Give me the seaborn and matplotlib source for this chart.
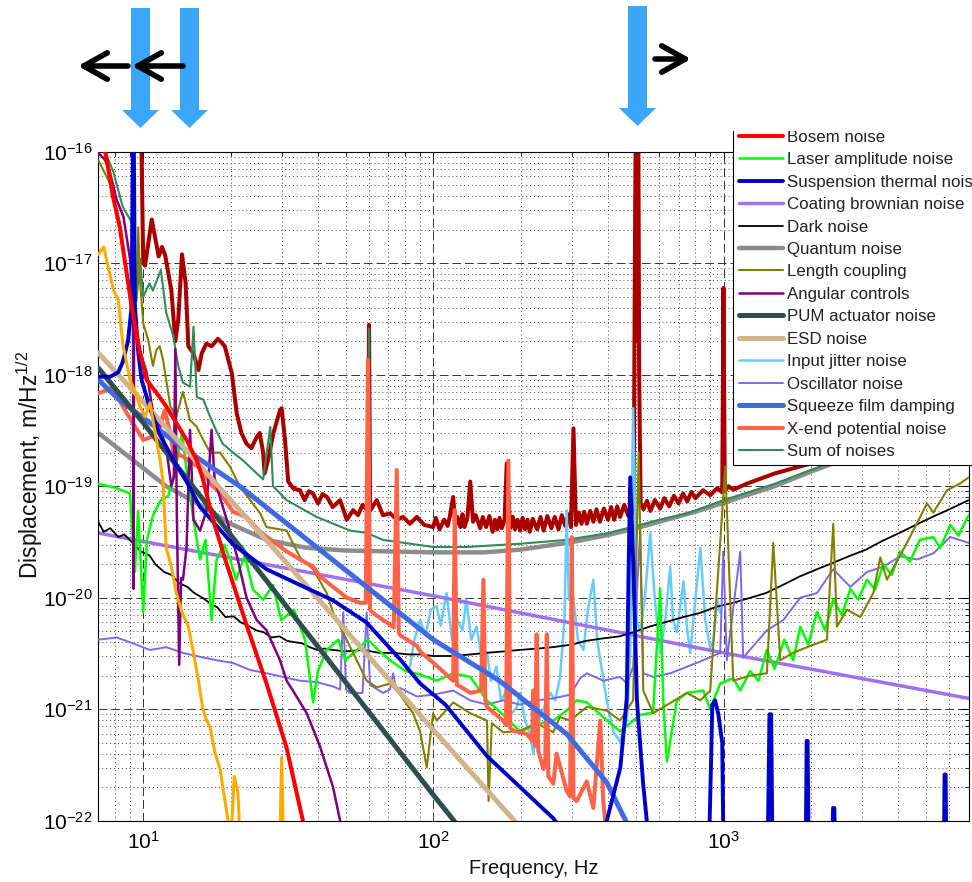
import numpy as np
import pandas as pd
import matplotlib
matplotlib.use("Agg")
import matplotlib.pyplot as plt
import seaborn as sns
from matplotlib.lines import Line2D
from matplotlib.patches import Polygon, FancyArrowPatch, Rectangle
from matplotlib.ticker import LogLocator, NullFormatter

# ---------------- data (frequency Hz, displacement m/Hz^1/2) ----------------
measured = [(7, 3e-16), (9.6, 3e-16), (9.8, 3e-16), (10.0, 1e-17), (10.14, 9.5e-18), (10.7, 2.46e-17),
            (11.3, 1.15e-17), (11.6, 1.4e-17), (11.9, 1.18e-17), (12.5, 5.7e-18), (12.9, 2.0e-18),
            (13.2, 3.1e-18), (13.6, 1.2e-17), (14.0, 6.6e-18), (14.3, 1.8e-18), (14.9, 1.55e-18),
            (15.5, 1.1e-18), (15.9, 1.55e-18), (16.5, 1.9e-18), (17.2, 1.8e-18), (18.1, 2.1e-18),
            (19.1, 1.8e-18), (20.2, 1.03e-18), (21.0, 4.5e-19), (21.8, 3.0e-19), (22.7, 2.4e-19),
            (23.6, 2.2e-19), (24.5, 2.7e-19), (25.2, 3.0e-19), (25.9, 2.0e-19), (26.2, 1.3e-19),
            (26.9, 1.7e-19), (28.1, 3.0e-19), (29.6, 4.8e-19), (30.0, 5.0e-19), (30.8, 2.6e-19),
            (31.6, 1.1e-19), (33.0, 9.5e-20), (34.7, 9.2e-20), (36.0, 7.5e-20), (37.2, 9.0e-20),
            (38.5, 8.6e-20), (40.0, 7.0e-20), (41.5, 8.5e-20), (43.0, 8.0e-20), (45.0, 6.5e-20),
            (47.7, 7.5e-20), (50.3, 5.0e-20), (52.9, 6.1e-20), (55.0, 5.5e-20), (57.0, 6.8e-20),
            (59.5, 6.0e-20), (60.0, 2.8e-18), (60.5, 6.0e-20), (63.8, 7.5e-20), (67.0, 5.5e-20),
            (70.9, 5.7e-20), (75.0, 5.0e-20), (78.6, 5.3e-20), (83.0, 4.6e-20), (87.7, 5.3e-20),
            (93.0, 4.5e-20), (99.8, 4.3e-20), (102, 5.2e-20), (105, 4.1e-20), (109, 5.0e-20),
            (112, 4.4e-20), (114, 5.4e-20), (117, 8e-20), (119, 4.5e-20), (121, 5.3e-20),
            (124, 4.3e-20), (126, 5.6e-20), (128, 4.3e-20), (131, 5.2e-20), (134, 1.1e-19),
            (137, 4.8e-20), (140, 5.5e-20), (145, 4.2e-20), (148, 5.3e-20), (152, 4.3e-20),
            (156, 5.4e-20), (160, 3.9e-20), (163, 5.0e-20), (166, 4.1e-20), (169, 5.2e-20),
            (172, 4.2e-20), (176, 5.0e-20), (179, 1.6e-19), (184, 4.2e-20), (188, 5.3e-20),
            (191, 4.1e-20), (195, 5.0e-20), (199, 4.0e-20), (203, 5.2e-20), (207, 4.1e-20),
            (211, 5.0e-20), (215, 3.9e-20), (220, 5.1e-20), (228, 4.1e-20), (234, 5.3e-20),
            (240, 4.0e-20), (247, 5.4e-20), (255, 4.2e-20), (262, 5.3e-20), (270, 4.1e-20),
            (277, 5.5e-20), (285, 4.4e-20), (292, 5.6e-20), (298, 4.3e-20), (304, 3.3e-19),
            (310, 4.5e-20), (317, 5.8e-20), (324, 4.6e-20), (331, 5.9e-20), (338, 4.6e-20),
            (347, 6.0e-20), (356, 4.8e-20), (365, 6.2e-20), (375, 4.8e-20), (387, 6.3e-20),
            (400, 5.0e-20), (410, 6.5e-20), (420, 5.0e-20), (430, 6.6e-20), (440, 5.3e-20),
            (455, 6.8e-20), (470, 5.4e-20), (480, 6.9e-20), (490, 5.8e-20), (496, 3e-17),
            (500, 5e-16), (504, 2e-18), (508, 5e-16), (512, 1e-18), (518, 7e-20), (530, 6.2e-20),
            (545, 7.4e-20), (560, 6.0e-20), (580, 7.5e-20), (605, 6.3e-20), (625, 7.8e-20),
            (650, 6.6e-20), (675, 8.2e-20), (700, 7.0e-20), (725, 8.6e-20), (750, 7.3e-20),
            (775, 8.9e-20), (800, 7.8e-20), (850, 9.2e-20), (900, 8.3e-20), (950, 9.6e-20),
            (990, 8.8e-20), (1000, 6e-18), (1010, 9.0e-20), (1040, 1.0e-19), (1080, 9.3e-20),
            (1200, 1.05e-19), (1500, 1.3e-19), (2000, 1.6e-19), (2500, 1.9e-19),
            (3500, 2.7e-19), (5000, 3.7e-19), (7000, 5.0e-19)]

quantum = [(7, 3.0e-19), (9, 1.8e-19), (12, 1.0e-19), (15.7, 6.8e-20), (20, 4.6e-20), (26.6, 3.3e-20),
           (36.6, 2.8e-20), (50, 2.65e-20), (100, 2.55e-20), (150, 2.55e-20), (200, 2.7e-20),
           (300, 3.15e-20), (400, 3.65e-20), (500, 4.2e-20), (600, 4.8e-20), (800, 5.9e-20),
           (1000, 7.1e-20), (1500, 1.0e-19), (2000, 1.35e-19), (3000, 2.0e-19), (5000, 3.3e-19),
           (7000, 4.6e-19)]

noise_sum = [(7.0, 1.5e-16), (7.4, 1.0e-16), (7.9, 6.5e-17), (8.5, 3.2e-17), (9.15, 2.3e-17), (9.5, 5e-18),
             (9.75, 1.1e-17), (10.0, 5e-18), (10.5, 6.6e-18), (10.8, 5.7e-18), (11.5, 8.7e-18),
             (12.0, 3.6e-18), (12.7, 2.2e-18), (13.2, 1.2e-18), (13.7, 8.5e-19), (14.5, 7.8e-19),
             (14.9, 2.7e-18), (15.3, 6.3e-19), (16.1, 6.0e-19), (17.0, 4.2e-19), (17.9, 3.1e-19),
             (18.8, 2.4e-19), (20.4, 2.0e-19), (22.1, 1.7e-19), (23.9, 1.4e-19), (25.9, 1.15e-19),
             (27.4, 3.4e-19), (28.0, 1.0e-19), (31.2, 7.5e-20), (39.6, 5.3e-20), (51.6, 4.0e-20),
             (59.5, 3.8e-20), (60.0, 2.6e-18), (60.5, 3.7e-20), (67, 3.3e-20), (99.8, 2.85e-20),
             (130, 2.85e-20), (200, 3.05e-20), (288, 3.3e-20), (400, 3.8e-20), (500, 4.4e-20),
             (600, 5.0e-20), (750, 5.7e-20), (1000, 7.5e-20), (1500, 1.05e-19), (2000, 1.4e-19),
             (3000, 2.05e-19), (5000, 3.4e-19), (7000, 4.7e-19)]

bosem = [(7.0, 1.5e-16), (7.4, 1.0e-16), (7.86, 4.0e-17), (8.3, 2.1e-17), (8.77, 8.1e-18), (9.2, 3.6e-18),
         (9.74, 1.6e-18), (10.27, 9.0e-19), (11.1, 6.9e-19), (12.0, 5.2e-19), (13.0, 3.7e-19),
         (14.1, 2.6e-19), (15.3, 1.7e-19), (16.0, 1.2e-19), (17.4, 5e-20), (19.4, 2e-20),
         (22.7, 5.7e-21), (26.6, 1.7e-21), (31.2, 4.5e-22), (35.5, 1.0e-22), (38, 5e-23)]

orange_trace = [(7.0, 1.2e-17), (7.3, 1.4e-17), (7.9, 5.7e-18), (8.2, 4.7e-18), (8.5, 1.9e-18), (9.0, 9e-19),
                (9.5, 6.4e-19), (9.74, 5.2e-19), (10.14, 4.2e-19), (10.55, 5.6e-19), (11.1, 2.6e-19),
                (11.4, 1.8e-19), (11.7, 1.1e-19), (12.0, 2.8e-20), (12.5, 1.9e-20), (13.0, 1.1e-20),
                (13.6, 7.4e-21), (14.3, 5.5e-21), (14.9, 3.2e-21), (15.5, 1.8e-21), (16.0, 1.05e-21),
                (16.5, 8e-22), (17.0, 6.9e-22), (17.7, 4e-22), (18.4, 2.9e-22), (19.1, 1.55e-22),
                (19.6, 1e-22), (20.0, 6e-23), (20.6, 2.5e-22), (21.2, 1.8e-22), (21.6, 6e-23),
                (29.5, 5e-23), (30.0, 3.7e-22), (30.5, 5e-23)]

susp_thermal = [(7.0, 9.6e-19), (7.7, 9.6e-19), (8.2, 1.05e-18), (8.5, 1.3e-18), (8.86, 2.0e-18),
                (9.12, 4.1e-18), (9.25, 5e-16), (9.36, 4.1e-18), (9.61, 1.6e-18), (9.87, 9e-19),
                (10.55, 5e-19), (11.4, 2.9e-19), (12.9, 1.6e-19), (14.1, 1.1e-19), (15.7, 6.5e-20),
                (20.4, 3.0e-20), (26.6, 1.8e-20), (34.7, 1.3e-20), (45, 9.5e-21), (58.8, 6e-21),
                (76.8, 2.8e-21), (90, 1.7e-21), (110, 1.1e-21), (153, 3.8e-22), (199, 2e-22),
                (259, 1.05e-22), (290, 7e-23), (380, 5e-23), (396, 1e-22), (441, 3e-22),
                (464, 1.25e-21), (471, 1.9e-20), (477, 1.2e-19), (489, 1.9e-20), (503, 1.2e-21),
                (528, 2.2e-22), (544, 1e-22), (600, 5e-23), (890, 5e-23), (905, 3e-22),
                (915, 1.1e-21), (935, 1.2e-21), (960, 9e-22), (990, 5e-22), (1000, 5e-23),
                (1420, 5e-23), (1440, 9e-22), (1460, 9e-22), (1475, 5e-23), (1920, 5e-23),
                (1935, 5.2e-22), (1950, 5.2e-22), (1965, 5e-23), (2370, 5e-23), (2385, 1.3e-22),
                (2410, 1.3e-22), (2425, 5e-23), (5750, 5e-23), (5780, 2.6e-22), (5830, 2.6e-22),
                (5860, 5e-23), (7000, 5e-23)]

coating = [(7, 3.8e-20), (100, 1.04e-20), (1000, 3.2e-21), (7000, 1.25e-21)]

dark = [(7.0, 4.8e-20), (7.3, 3.9e-20), (7.7, 4.2e-20), (8.2, 3.5e-20), (8.6, 3.7e-20), (9.2, 3.1e-20),
        (9.8, 2.6e-20), (10.5, 2.4e-20), (11.0, 2.0e-20), (11.8, 1.7e-20), (12.5, 1.6e-20),
        (13.3, 1.35e-20), (14.2, 1.25e-20), (15.0, 1.1e-20), (16.0, 1.0e-20), (17.0, 8.9e-21),
        (18.0, 8.2e-21), (19.2, 6.7e-21), (20.5, 6.8e-21), (21.7, 6.0e-21), (23.0, 5.6e-21),
        (24.5, 5.1e-21), (26.0, 4.9e-21), (27.7, 4.4e-21), (29.5, 4.5e-21), (31.3, 4.1e-21),
        (33.0, 4.0e-21), (35.3, 3.9e-21), (37.5, 3.6e-21), (39.8, 3.4e-21), (42, 3.5e-21),
        (45, 3.4e-21), (50, 3.3e-21), (57.5, 3.4e-21), (65, 3.2e-21), (73, 3.2e-21), (82, 3.1e-21),
        (90, 3.1e-21), (100, 3.0e-21), (117, 3.0e-21), (135, 3.1e-21), (152, 3.2e-21),
        (175, 3.3e-21), (198, 3.4e-21), (230, 3.5e-21), (258, 3.6e-21), (300, 3.8e-21),
        (336, 4.1e-21), (380, 4.3e-21), (438, 4.5e-21), (489, 4.9e-21), (555, 5.5e-21),
        (640, 6.1e-21), (726, 6.7e-21), (830, 7.3e-21), (946, 8.3e-21), (1080, 9e-21),
        (1240, 1.0e-20), (1400, 1.1e-20), (1600, 1.3e-20), (1830, 1.55e-20), (2100, 1.8e-20),
        (2380, 2.05e-20), (2700, 2.35e-20), (3100, 2.7e-20), (3500, 3.2e-20), (4030, 3.8e-20),
        (4600, 4.5e-20), (5250, 5.3e-20), (6000, 6.2e-20), (7000, 7.5e-20)]

laser_amp = [(7.0, 1.05e-19), (8.0, 9.7e-20), (9.0, 8.6e-20), (9.36, 1.7e-20), (9.6, 6e-20), (10.0, 7.4e-21),
             (10.3, 3.3e-20), (10.8, 5.5e-20), (11.5, 7.5e-20), (12.2, 8.2e-20), (12.9, 1.4e-19),
             (13.6, 3e-19), (14.1, 1.4e-19), (14.9, 5e-20), (15.7, 2.2e-20), (16.4, 3.3e-20),
             (17.2, 6.3e-21), (17.9, 2.2e-20), (19.0, 3e-20), (19.9, 2.2e-20), (20.9, 1.45e-20),
             (22.4, 2.4e-20), (23.9, 1.18e-20), (25.9, 9.6e-21), (28.0, 1.3e-20), (29.9, 6.3e-21),
             (33.1, 7.8e-21), (36.1, 4.2e-21), (38.5, 1.15e-21), (40, 2.2e-21), (42.9, 3.4e-21),
             (47, 4.2e-21), (49.6, 2.75e-21), (54.6, 3.4e-21), (59.5, 4.2e-21), (64.5, 3.4e-21),
             (70.9, 2.75e-21), (80, 2.2e-21), (90, 2.05e-21), (102.7, 1.8e-21), (117, 2.1e-21),
             (134, 1.95e-21), (153, 1.2e-21), (174, 8.9e-22), (199, 6.3e-22), (227, 7.3e-22),
             (259, 7.9e-22), (288, 9.7e-22), (312, 1.2e-21), (338, 1.15e-21), (385, 8.5e-22),
             (440, 6.3e-22), (516, 8.9e-22), (572, 9.3e-22), (605, 1.2e-20), (620, 1.2e-21),
             (638, 3.4e-22), (691, 1.2e-21), (748, 1.4e-21), (851, 1.47e-21), (900, 1.0e-21),
             (974, 1.7e-21), (1080, 1.9e-21), (1142, 1.47e-21), (1236, 2.2e-21), (1320, 1.8e-21),
             (1411, 3.4e-21), (1500, 2.3e-21), (1620, 4.2e-21), (1739, 2.75e-21), (1839, 5.5e-21),
             (1960, 3.8e-21), (2100, 7.5e-21), (2240, 5.1e-21), (2389, 9.6e-21), (2560, 7e-21),
             (2735, 1.2e-20), (2910, 9.6e-21), (3123, 1.45e-20), (3330, 1.18e-20), (3554, 2.0e-20),
             (3800, 1.6e-20), (4064, 2.6e-20), (4390, 2.1e-20), (4750, 3.3e-20), (5286, 3.5e-20),
             (5580, 2.8e-20), (6050, 4.5e-20), (6450, 3.6e-20), (7000, 5.5e-20)]

length_coupling = [(7.0, 8.4e-17), (7.68, 5.2e-17), (8.3, 2.3e-17), (8.77, 8.2e-18), (9.12, 3.3e-18),
                   (9.49, 4.7e-18), (9.61, 2.1e-17), (9.74, 7.1e-18), (10.0, 2.9e-18), (10.4, 2.05e-18),
                   (10.8, 1.2e-18), (11.1, 1.67e-18), (11.4, 1.8e-18), (11.7, 1.36e-18), (12.4, 5.2e-19),
                   (13.0, 4.2e-19), (13.7, 7e-19), (14.5, 3.9e-19), (15.3, 3.4e-19), (16.1, 2.6e-19),
                   (17.0, 2e-19), (18.4, 2e-19), (19.9, 1.5e-19), (21.5, 1e-19), (22.7, 8.3e-20),
                   (25.3, 5.7e-20), (26.6, 4.3e-20), (31.2, 4.0e-20), (34.7, 2.3e-20), (38.5, 1.8e-20),
                   (42.9, 1.1e-20), (45.1, 7.4e-21), (47.7, 5.5e-21), (52.9, 3.2e-21), (58.9, 1.8e-21),
                   (63.8, 1.57e-21), (70.9, 1.7e-21), (76.8, 1.35e-21), (85.1, 9.2e-22), (90, 6.3e-22),
                   (94.9, 3e-22), (99.8, 9.2e-22), (102.7, 7.9e-22), (117, 1.15e-21), (134, 9.2e-22),
                   (153, 7.9e-22), (155, 1.5e-22), (159, 7.5e-22), (174, 6.2e-22), (199, 6.4e-22),
                   (227, 7.5e-22), (259, 6.2e-22), (273, 8.5e-22), (296, 7.9e-22), (338, 1.05e-21),
                   (396, 9.7e-22), (440, 7.9e-22), (488, 1.2e-21), (510, 2e-19), (529, 1.47e-21),
                   (572, 9.2e-22), (748, 1.4e-21), (832, 1.2e-21), (900, 1.47e-21), (1014, 1.5e-19),
                   (1080, 1.8e-21), (1236, 2.0e-21), (1411, 2.1e-21), (1484, 3.1e-20), (1569, 2.75e-21),
                   (1739, 3.2e-21), (1991, 3.7e-21), (2273, 4.2e-21), (2389, 4.6e-20), (2460, 5.5e-21),
                   (2665, 7.8e-21), (2961, 6.7e-21), (3283, 1.1e-20), (3470, 2.3e-20), (3660, 1.45e-20),
                   (4287, 3.1e-20), (5029, 7e-20), (5286, 5.8e-20), (5893, 9.2e-20), (6550, 1.06e-19),
                   (7000, 1.2e-19)]

angular = [(7.0, 9.7e-17), (7.38, 8.5e-17), (7.68, 6.5e-17), (8.1, 3.7e-17), (8.55, 2.6e-17), (9.0, 1.1e-17),
           (9.22, 4e-18), (9.26, 1.2e-20), (9.3, 2.7e-18), (9.87, 1.45e-18), (10.27, 1.05e-18),
           (10.8, 4.6e-19), (11.4, 3.4e-19), (12.0, 2.2e-19), (12.5, 1.0e-19), (12.75, 1.2e-19),
           (12.9, 1.7e-18), (13.05, 6e-20), (13.3, 2.5e-21), (13.5, 1.5e-20), (13.7, 1.45e-20),
           (14.1, 2.8e-20), (14.5, 3.2e-19), (14.9, 5e-20), (15.7, 4e-20), (16.5, 6e-20),
           (17.2, 3.2e-19), (17.6, 1.2e-19), (17.9, 1.0e-19), (19.4, 5e-20), (21.0, 2.4e-20),
           (22.7, 1.0e-20), (24.6, 6.3e-21), (26.6, 5.1e-21), (29.6, 2.75e-21), (31.2, 1.8e-21),
           (32.8, 1.47e-21), (36.6, 9.2e-22), (40.7, 4.6e-22), (45.1, 2.0e-22), (47.7, 1.0e-22),
           (49.6, 7e-23)]

pum = [(7, 1.15e-18), (10, 3.7e-19), (30, 9.5e-21), (60, 9.4e-22), (100, 1.7e-22), (120, 9.4e-23)]

esd = [(7, 1.57e-18), (10, 5.7e-19), (30, 2.3e-20), (100, 6.5e-22), (190, 1e-22), (200, 8.5e-23)]

input_jitter = [(83, 2.4e-21), (86, 4.2e-21), (90, 6.3e-21), (94, 4.6e-21), (98, 7.8e-21), (102.7, 8.4e-21),
                (106, 5.6e-21), (111, 1.1e-20), (116, 4.2e-21), (120, 6.6e-21), (126, 5.1e-21),
                (130, 9.6e-21), (135, 4.2e-21), (141, 5.5e-21), (147, 2.75e-21), (153, 3.2e-21),
                (158, 1.8e-21), (165, 2.4e-21), (171, 1.2e-21), (179, 1.47e-21), (185, 8.9e-22),
                (194, 1.05e-21), (199, 1.4e-21), (207, 7.9e-22), (215, 6.1e-22), (221, 4e-22),
                (233, 8.5e-22), (243, 1.1e-21), (253, 1.4e-21), (263, 1.2e-21), (273, 1.9e-21),
                (283, 6.3e-21), (288, 6.1e-20), (293, 9.6e-21), (304, 9.6e-21), (315, 4.2e-21),
                (329, 3.4e-21), (341, 7.8e-21), (356, 1.45e-20), (367, 4.2e-21), (376, 2.75e-21),
                (396, 1.2e-21), (417, 6.3e-22), (440, 5.1e-22), (465, 7.9e-22), (477, 3.4e-21),
                (488, 5e-19), (503, 6.3e-21), (516, 4.9e-21), (535, 9.6e-21), (559, 3.8e-20),
                (580, 9.6e-21), (605, 3.2e-21), (630, 6.3e-21), (655, 1.9e-20), (670, 6.3e-21),
                (691, 4.9e-21), (728, 1.4e-20), (750, 5.1e-21), (768, 3.2e-21), (800, 9.6e-21),
                (832, 2.8e-20), (865, 6.3e-21), (900, 3.5e-21), (924, 4.2e-21), (950, 9.6e-21),
                (974, 7.3e-21)]

oscillator = [(7.0, 4.2e-21), (8.1, 4.4e-21), (9.2, 3.9e-21), (10.55, 3.4e-21), (12.0, 3.6e-21),
              (13.7, 3.2e-21), (15.7, 2.95e-21), (17.9, 2.75e-21), (20.4, 2.6e-21), (23.3, 2.25e-21),
              (26.6, 2.1e-21), (30.3, 1.95e-21), (34.7, 1.8e-21), (39.6, 1.75e-21), (45.1, 1.6e-21),
              (47.7, 1.5e-21), (48.9, 7.4e-21), (50, 1.5e-21), (51.6, 1.4e-21), (57, 1.4e-21),
              (58.9, 7.4e-21), (60.5, 1.65e-21), (67.1, 1.4e-21), (70.9, 1.5e-21), (72.6, 2.1e-21),
              (74.5, 1.5e-21), (76.8, 1.55e-21), (87.7, 1.3e-21), (100, 1.35e-21), (117, 1.47e-21),
              (134, 1.2e-21), (153, 1.1e-21), (174, 1.2e-21), (199, 1.1e-21), (227, 1.2e-21),
              (259, 1.25e-21), (296, 1.35e-21), (321, 1.9e-21), (338, 2.1e-21), (385, 1.8e-21),
              (440, 1.95e-21), (465, 1.7e-21), (488, 2.4e-21), (516, 3.9e-20), (529, 2.1e-21),
              (572, 1.95e-21), (655, 2.1e-21), (748, 2.4e-21), (851, 2.75e-21), (974, 3.2e-21),
              (998, 2.6e-20), (1027, 2.75e-21), (1142, 2.6e-20), (1169, 2.9e-21), (1411, 5.1e-21),
              (1607, 6.3e-21), (1839, 1.0e-20), (2099, 1.1e-20), (2389, 1.8e-20), (2735, 1.25e-20),
              (3123, 1.7e-20), (3554, 1.9e-20), (4064, 2.35e-20), (4645, 2.2e-20), (5286, 2.5e-20),
              (6050, 3.5e-20), (7000, 3.1e-20)]

squeeze = [(7, 9e-19), (8.3, 5.9e-19), (10.55, 3.7e-19), (13.7, 2.2e-19), (21.5, 1.0e-19), (100, 4.2e-21),
           (169, 1.8e-21), (288, 6e-22), (396, 2.2e-22), (460, 1e-22), (480, 8e-23)]

xend = [(7.0, 6.8e-19), (7.86, 7.7e-19), (8.5, 5.2e-19), (9.2, 3.7e-19), (10.0, 2.6e-19), (10.8, 2.8e-19),
        (11.4, 3.4e-19), (11.85, 4.8e-19), (12.4, 3.0e-19), (12.7, 2.0e-19), (13.7, 1.85e-19),
        (14.8, 1.6e-19), (16.1, 1.4e-19), (17.0, 1.05e-19), (18.4, 8.7e-20), (20.4, 5.9e-20),
        (22.7, 5.3e-20), (25.3, 3.9e-20), (28.0, 3.2e-20), (31.2, 2.6e-20), (34.7, 2.2e-20),
        (38.5, 1.9e-20), (40.7, 1.55e-20), (45.1, 1.25e-20), (50.3, 1.0e-20), (55.9, 9e-21),
        (58.5, 9e-21), (59.5, 1.36e-18), (60.5, 7.8e-21), (61.9, 7.3e-21), (69.1, 6e-21),
        (73, 5.4e-21), (74.8, 1.4e-19), (76, 4.9e-21), (76.8, 4.6e-21), (87.7, 3.7e-21),
        (90, 3.3e-21), (102.7, 2.45e-21), (117, 1.8e-21), (118.5, 6.1e-20), (120.5, 1.65e-21),
        (123.6, 1.6e-21), (134, 1.4e-21), (146, 1.47e-21), (148.8, 1.45e-20), (151, 1.2e-21),
        (153, 1.05e-21), (174, 7.9e-22), (178, 7.2e-22), (181.4, 1.7e-19), (184, 6.8e-22),
        (189, 6.4e-22), (210, 6e-22), (219, 5.2e-22), (221, 1.47e-21), (224, 4.7e-22),
        (227, 4.7e-21), (230, 4.2e-22), (239.5, 2.9e-22), (243, 3.4e-22), (246, 4.7e-21),
        (249, 2.5e-22), (259, 2.15e-22), (266, 4e-22), (288, 1.85e-22), (296, 1.65e-22),
        (300, 3.5e-20), (304, 1.6e-22), (312, 1.5e-22), (338, 2.25e-22), (356, 1.3e-22),
        (376, 7.9e-22), (385, 1.5e-22), (391, 1e-22), (410, 5e-23)]

x_tick_values = [10, 100, 1000]
x_tick_labels = [r"$\mathregular{10^{1}}$", r"$\mathregular{10^{2}}$", r"$\mathregular{10^{3}}$"]
y_tick_values = [1e-22, 1e-21, 1e-20, 1e-19, 1e-18, 1e-17, 1e-16]
y_tick_labels = [r"$\mathregular{10^{-22}}$", r"$\mathregular{10^{-21}}$", r"$\mathregular{10^{-20}}$",
                 r"$\mathregular{10^{-19}}$", r"$\mathregular{10^{-18}}$", r"$\mathregular{10^{-17}}$",
                 r"$\mathregular{10^{-16}}$"]

# ---------------- styling ----------------
sns.set_theme(style="white")
plt.rcParams["font.family"] = ["Liberation Sans", "DejaVu Sans"]
plt.rcParams["mathtext.fontset"] = "custom"
plt.rcParams["mathtext.rm"] = "Liberation Sans"
plt.rcParams["mathtext.it"] = "Liberation Sans:italic"
plt.rcParams["mathtext.default"] = "regular"

fig = plt.figure(figsize=(9.72, 8.82), dpi=100)
ax = fig.add_axes([98.3 / 972, 1 - 820.7 / 882, (968.7 - 98.3) / 972, (820.7 - 151.7) / 882])
ax.set_xscale("log")
ax.set_yscale("log")

# (label, data, color, linewidth, zorder)
series = [
    (None, measured, "#aa0000", 2.9, 2.0),
    ("Quantum noise", quantum, "#8c8c8c", 3.2, 2.1),
    ("Sum of noises", noise_sum, "#2e8b57", 1.5, 2.2),
    ("Input jitter noise", input_jitter, "#66ccff", 1.8, 2.3),
    ("Coating brownian noise", coating, "#a070ee", 2.5, 2.4),
    ("Dark noise", dark, "#000000", 1.3, 2.5),
    ("Oscillator noise", oscillator, "#7b68ee", 1.4, 2.6),
    ("Laser amplitude noise", laser_amp, "#00ff00", 1.8, 2.7),
    ("Length coupling", length_coupling, "#808000", 1.5, 2.8),
    ("X-end potential noise", xend, "#ff6347", 2.9, 2.9),
    ("Angular controls", angular, "#800080", 1.8, 3.0),
    ("Squeeze film damping", squeeze, "#4169e1", 3.6, 3.1),
    ("ESD noise", esd, "#d2b48c", 3.6, 3.2),
    ("PUM actuator noise", pum, "#2f4f4f", 3.6, 3.3),
    ("Suspension thermal noise", susp_thermal, "#0000cc", 2.8, 3.4),
    ("Bosem noise", bosem, "#ff0000", 2.9, 3.5),
    (None, orange_trace, "#ffaa00", 2.2, 3.6),
]

style = {}
for label, pairs, color, lw, z in series:
    df = pd.DataFrame(pairs, columns=["freq", "amp"])
    sns.lineplot(data=df, x="freq", y="amp", ax=ax, color=color, linewidth=lw,
                 estimator=None, sort=False, legend=False, zorder=z)
    if label:
        style[label] = (color, lw)

ax.set_xlim(7, 7000)
ax.set_ylim(1e-22, 1e-16)

ax.set_xticks(x_tick_values, labels=x_tick_labels)
ax.set_yticks(y_tick_values, labels=y_tick_labels)
ax.xaxis.set_minor_locator(LogLocator(base=10, subs=np.arange(2, 10), numticks=100))
ax.yaxis.set_minor_locator(LogLocator(base=10, subs=np.arange(2, 10), numticks=100))
ax.xaxis.set_minor_formatter(NullFormatter())
ax.yaxis.set_minor_formatter(NullFormatter())
ax.tick_params(which="both", direction="in", top=True, right=True, color="black")
ax.tick_params(which="major", length=6, width=0.7, labelsize=15, colors="black")
ax.tick_params(which="minor", length=3, width=0.6)
ax.tick_params(axis="x", which="major", pad=7)
ax.tick_params(axis="y", which="major", pad=4)

ax.grid(True, which="major", linestyle=(0, (9, 4)), color="#333333", linewidth=0.7)
ax.grid(True, which="minor", linestyle=(0, (1, 3)), color="#444444", linewidth=0.7)
ax.set_axisbelow(True)
for sp in ax.spines.values():
    sp.set_visible(True)
    sp.set_color("black")
    sp.set_linewidth(0.8)

ax.set_xlabel("Frequency, Hz", fontsize=14.5, color="#111111", labelpad=5)
ax.set_ylabel(r"Displacement, m/Hz$^{1/2}$", fontsize=16.5, color="#111111")
ax.yaxis.set_label_coords((45 - 98.3) / 870.4, (820.7 - 465) / 669)

legend_order = ["Bosem noise", "Laser amplitude noise", "Suspension thermal noise",
                "Coating brownian noise", "Dark noise", "Quantum noise", "Length coupling",
                "Angular controls", "PUM actuator noise", "ESD noise", "Input jitter noise",
                "Oscillator noise", "Squeeze film damping", "X-end potential noise", "Sum of noises"]
handles = [Line2D([0], [0], color=style[n][0], linewidth=style[n][1]) for n in legend_order]
leg = ax.legend(handles, legend_order, loc="lower left",
                bbox_to_anchor=(733 / 972, 1 - 465 / 882), bbox_transform=fig.transFigure,
                borderaxespad=0, frameon=True, fancybox=False, shadow=False, framealpha=1,
                edgecolor="black", fontsize=12.2, handlelength=2.6, handletextpad=0.25,
                labelspacing=0.44, borderpad=0.35)
leg.get_frame().set_linewidth(0.8)
for t in leg.get_texts():
    t.set_color("#222222")
leg.set_zorder(20)

# white band hiding the top of the legend (as in the reference)
fig.add_artist(Rectangle((715 / 972, 1 - 131 / 882), (972 - 715) / 972, 131 / 882,
                         transform=fig.transFigure, facecolor="white", edgecolor="none", zorder=10))

# blue down arrows
def blue_arrow(cx, top, shaft_bottom, tip):
    hw_s, hw_h = 9.5, 18.5
    pts = [(cx - hw_s, top), (cx + hw_s, top), (cx + hw_s, shaft_bottom), (cx + hw_h, shaft_bottom),
           (cx, tip), (cx - hw_h, shaft_bottom), (cx - hw_s, shaft_bottom)]
    pts = [(x / 972, 1 - y / 882) for x, y in pts]
    fig.add_artist(Polygon(pts, closed=True, transform=fig.transFigure,
                           facecolor="#3aa6fc", edgecolor="none", zorder=11))

blue_arrow(140.5, 8, 110, 128)
blue_arrow(189.5, 8, 110, 128)
blue_arrow(637.5, 6, 108, 126)

def black_arrow(x0, x1, y):
    arr = FancyArrowPatch((x0 / 972, 1 - y / 882), (x1 / 972, 1 - y / 882),
                          transform=fig.transFigure,
                          arrowstyle="->,head_length=1.7,head_width=0.95", mutation_scale=10,
                          color="black", linewidth=4.0, capstyle="round", joinstyle="round",
                          shrinkA=0, shrinkB=0, zorder=12)
    fig.add_artist(arr)

black_arrow(128, 78, 66)
black_arrow(183, 132, 66)
black_arrow(655, 691, 59)

fig.savefig("out.png", dpi=100)
